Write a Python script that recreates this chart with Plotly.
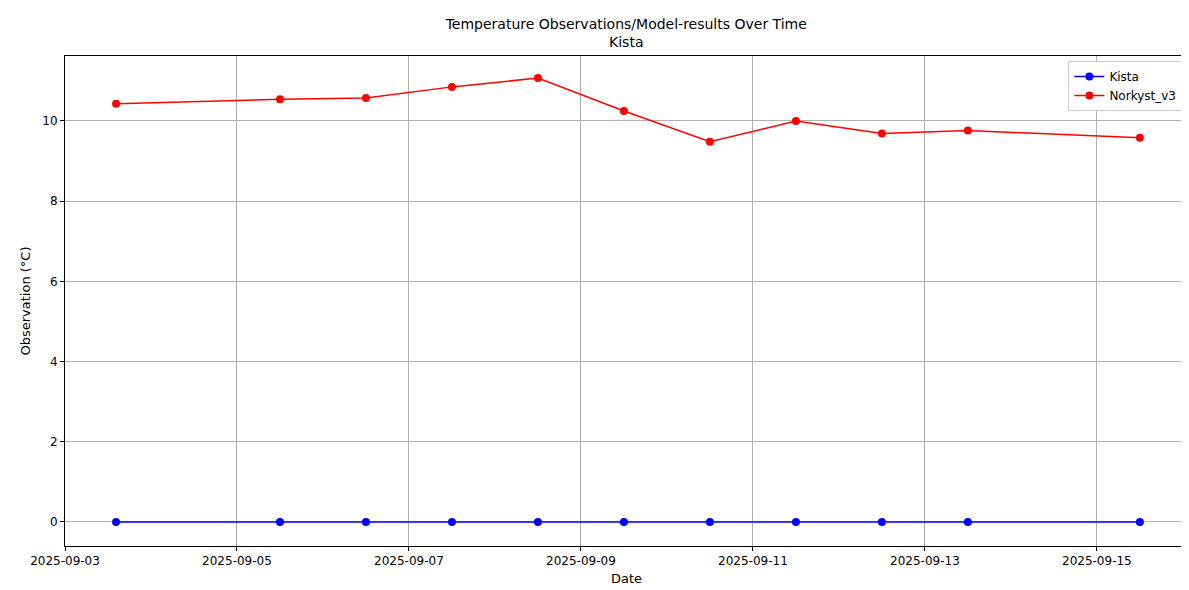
import plotly.graph_objects as go

dates = ["2025-09-03 14:15", "2025-09-05 12:00", "2025-09-06 12:00", "2025-09-07 12:00",
         "2025-09-08 12:00", "2025-09-09 12:00", "2025-09-10 12:00", "2025-09-11 12:00",
         "2025-09-12 12:00", "2025-09-13 12:00", "2025-09-15 12:00"]
kista = [0, 0, 0, 0, 0, 0, 0, 0, 0, 0, 0]
norkyst = [10.43, 10.54, 10.57, 10.85, 11.07, 10.25, 9.48, 10.0, 9.69, 9.76, 9.58]
tickvals = ["2025-09-03", "2025-09-05", "2025-09-07", "2025-09-09", "2025-09-11", "2025-09-13", "2025-09-15"]

fig = go.Figure()
fig.add_trace(go.Scatter(x=dates, y=kista, mode="lines+markers", name="Kista",
                         line=dict(color="blue", width=1.5), marker=dict(color="blue", size=8)))
fig.add_trace(go.Scatter(x=dates, y=norkyst, mode="lines+markers", name="Norkyst_v3",
                         line=dict(color="red", width=1.5), marker=dict(color="red", size=8)))

axis = dict(showline=True, mirror=True, linecolor="black", gridcolor="#b0b0b0",
            ticks="outside", ticklen=4, tickcolor="black", zeroline=False, automargin=False,
            tickfont=dict(size=12))
fig.update_layout(
    width=1189, height=590, paper_bgcolor="white", plot_bgcolor="white",
    font=dict(family="DejaVu Sans", size=12, color="black"),
    margin=dict(l=57, r=9, t=48, b=52),
    title=dict(text="Temperature Observations/Model-results Over Time<br>Kista",
               x=0.52, xanchor="center", y=0.965, yanchor="top", font=dict(size=14)),
    xaxis=dict(axis, title=dict(text="Date", standoff=6, font=dict(size=13)), type="date",
               range=["2025-09-03 00:00", "2025-09-16 01:26"],
               tickvals=tickvals, ticktext=tickvals),
    yaxis=dict(axis, title=dict(text="Observation (°C)", standoff=8, font=dict(size=13)),
               range=[-0.6, 11.62], tickvals=[0, 2, 4, 6, 8, 10]),
    legend=dict(x=0.995, y=0.99, xanchor="right", yanchor="top",
                bordercolor="#cccccc", borderwidth=1, bgcolor="white"),
)
fig.write_html("out.html")
